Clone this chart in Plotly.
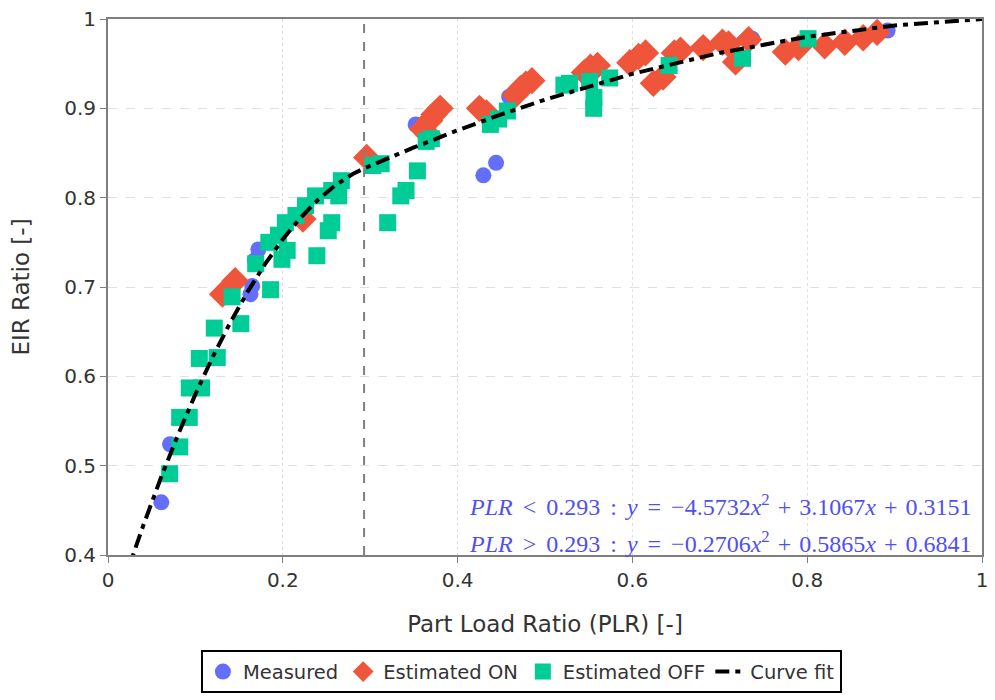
import plotly.graph_objects as go

# ---- data ----
measured_x = [0.061, 0.071, 0.163, 0.165, 0.168, 0.172, 0.352, 0.4295, 0.444, 0.459, 0.737, 0.892]
measured_y = [0.459, 0.524, 0.692, 0.701, 0.730, 0.742, 0.882, 0.825, 0.839, 0.913, 0.978, 0.987]

on_x = [0.131, 0.1455, 0.223, 0.296, 0.360, 0.366, 0.368, 0.373, 0.380, 0.425, 0.433,
        0.466, 0.472, 0.478, 0.485, 0.545, 0.552, 0.560, 0.597, 0.607, 0.615, 0.624, 0.635,
        0.648, 0.655, 0.681, 0.703, 0.710, 0.718, 0.733, 0.775, 0.790, 0.820, 0.843, 0.864, 0.880]
on_y = [0.692, 0.707, 0.776, 0.845, 0.877, 0.871, 0.886, 0.893, 0.900, 0.900, 0.895,
        0.915, 0.922, 0.927, 0.931, 0.940, 0.946, 0.948, 0.951, 0.958, 0.962, 0.928, 0.935,
        0.962, 0.965, 0.968, 0.974, 0.972, 0.952, 0.977, 0.963, 0.968, 0.970, 0.974, 0.979, 0.985]

off_x = [0.0705, 0.082, 0.082, 0.093, 0.093, 0.107, 0.1045, 0.125, 0.1216, 0.152, 0.142,
         0.186, 0.169, 0.199, 0.205, 0.239, 0.184, 0.195, 0.203, 0.215, 0.226, 0.2375,
         0.256, 0.267, 0.264, 0.256, 0.252, 0.3125, 0.303, 0.320, 0.335, 0.341, 0.354,
         0.364, 0.370, 0.4375, 0.447, 0.457, 0.5216, 0.528, 0.551, 0.5557, 0.556, 0.574,
         0.642, 0.726, 0.801]
off_y = [0.491, 0.521, 0.554, 0.554, 0.587, 0.587, 0.620, 0.621, 0.654, 0.659, 0.689,
         0.697, 0.726, 0.731, 0.741, 0.735, 0.750, 0.758, 0.772, 0.780, 0.791, 0.802,
         0.808, 0.819, 0.802, 0.772, 0.763, 0.838, 0.836, 0.772, 0.802, 0.808, 0.830,
         0.863, 0.866, 0.882, 0.888, 0.897, 0.926, 0.928, 0.930, 0.900, 0.912, 0.934,
         0.948, 0.956, 0.978]

fit_x = [0.02, 0.04, 0.06, 0.08, 0.10, 0.12, 0.14, 0.16, 0.18, 0.20, 0.22, 0.24, 0.26, 0.28,
         0.293, 0.35, 0.40, 0.45, 0.50, 0.60, 0.70, 0.80, 0.90, 1.00]
fit_y = [0.3754, 0.4321, 0.4850, 0.5344, 0.5800, 0.6221, 0.6604, 0.6951, 0.7261, 0.7535,
         0.7772, 0.7973, 0.8137, 0.8264, 0.8328, 0.8562, 0.8754, 0.8932, 0.9097, 0.9386,
         0.9621, 0.9801, 0.9928, 1.0000]

plr_threshold = 0.293
H = "\u200a"      # hair space: math-style spacing around binary operators
R = H + H         # a bit wider around relations
eq_low = (f"<i>PLR</i> {R}<{R} 0.293 {R}:{R} <i>y</i> {R}={R} \u22124.5732<i>x</i><sup>2</sup>"
          f" {H}+{H} 3.1067<i>x</i> {H}+{H} 0.3151")
eq_high = (f"<i>PLR</i> {R}>{R} 0.293 {R}:{R} <i>y</i> {R}={R} \u22120.2706<i>x</i><sup>2</sup>"
           f" {H}+{H} 0.5865<i>x</i> {H}+{H} 0.6841")

# ---- figure ----
fig = go.Figure()
fig.add_trace(go.Scatter(x=measured_x, y=measured_y, mode="markers", name="Measured",
                         marker=dict(symbol="circle", size=16, color="#636efa")))
fig.add_trace(go.Scatter(x=on_x, y=on_y, mode="markers", name="Estimated ON",
                         marker=dict(symbol="diamond", size=21, color="#EF553B")))
fig.add_trace(go.Scatter(x=off_x, y=off_y, mode="markers", name="Estimated OFF",
                         marker=dict(symbol="square", size=17, color="#00cc96")))
fig.add_trace(go.Scatter(x=fit_x, y=fit_y, mode="lines", name="Curve fit",
                         line=dict(color="black", width=4, dash="14px,6px,5px,6px")))

fig.add_shape(type="line", xref="x", yref="y", x0=plr_threshold, x1=plr_threshold,
              y0=0.4, y1=1.0, line=dict(color="#808080", width=2, dash="dash"), layer="above")

eq_font = dict(family="Liberation Serif, DejaVu Serif, serif", size=24, color="#4f4ff2")
fig.add_annotation(xref="paper", yref="paper", x=0.411, y=0.094, xanchor="left", yanchor="middle",
                   text=eq_low, showarrow=False, font=eq_font)
fig.add_annotation(xref="paper", yref="paper", x=0.411, y=0.024, xanchor="left", yanchor="middle",
                   text=eq_high, showarrow=False, font=eq_font)

axis_common = dict(showline=True, linecolor="#7f7f7f", linewidth=2, mirror=True,
                   ticks="outside", ticklen=6, tickcolor="#7f7f7f", tickwidth=1,
                   showgrid=True, gridcolor="#e0e0e0", gridwidth=1, zeroline=False,
                   tickfont=dict(size=20, color="#333"))

fig.update_layout(
    width=995, height=700,
    plot_bgcolor="white", paper_bgcolor="white",
    font=dict(family="DejaVu Sans, Verdana, sans-serif", size=19, color="#333"),
    margin=dict(l=108, r=7, t=13, b=142),
    xaxis=dict(range=[0, 1], dtick=0.2, griddash="dot",
               title=dict(text="Part Load Ratio (PLR) [-]", font=dict(size=23), standoff=25),
               **axis_common),
    yaxis=dict(range=[0.4, 1], dtick=0.1, griddash="dash",
               title=dict(text="EIR Ratio [-]", font=dict(size=23), standoff=28),
               **axis_common),
    legend=dict(orientation="h", x=0.473, xanchor="center", y=-0.178, yanchor="top",
                bordercolor="black", borderwidth=2, font=dict(size=19.5)),
    showlegend=True,
)

fig.write_html("out.html")
